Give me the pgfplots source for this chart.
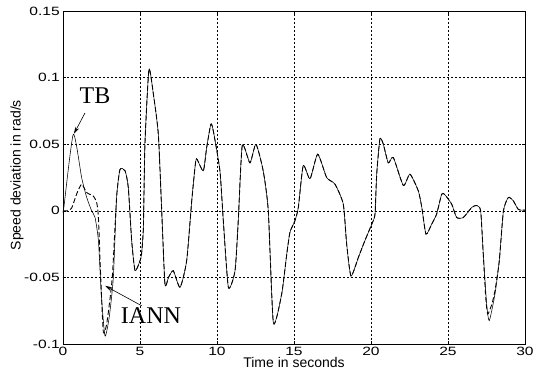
\documentclass[border=0pt]{standalone}
\usepackage{fontspec}
\setmainfont{Liberation Sans}
\newfontfamily\tickfont{Liberation Sans}[FakeStretch=1.3]
\newfontfamily\annfont{Liberation Serif}
\usepackage{pgfplots}
\pgfplotsset{compat=1.18}
\usetikzlibrary{arrows.meta}
\begin{document}
\begin{tikzpicture}
\useasboundingbox (-63pt,-37pt) rectangle (470pt,344pt);
\begin{axis}[
  at={(0pt,0pt)}, anchor=south west,
  scale only axis, width=462pt, height=333pt,
  xmin=0, xmax=30, ymin=-0.1, ymax=0.15,
  xtick={0,5,10,15,20,25,30},
  xticklabels={0,5,10,15,20,25,30},
  ytick={-0.1,-0.05,0,0.05,0.1,0.15},
  yticklabels={-0.1,-0.05,0,0.05,0.1,0.15},
  tick align=inside,
  major tick length=3pt,
  tick style={black, line width=0.5pt},
  xticklabel style={font=\tickfont\fontsize{12}{13}\selectfont, inner sep=0pt, anchor=north, yshift=-3pt},
  yticklabel style={font=\tickfont\fontsize{12}{13}\selectfont, inner sep=0pt, anchor=east, xshift=-3pt},
  grid=major,
  major grid style={black, line width=0.5pt, dash pattern=on 2pt off 2pt},
  axis line style={black, line width=0.7pt},
  xlabel={Time in seconds},
  ylabel={Speed deviation in rad/s},
  xlabel style={font=\fontsize{14}{15}\selectfont, at={(axis description cs:0.5,-0.057)}, anchor=center},
  ylabel style={font=\fontsize{14}{15}\selectfont, at={(axis description cs:-0.0996,0.507)}, anchor=center, rotate=0},
  clip=true,
]
% IANN (dashed)
\addplot[black, line width=0.9pt, dash pattern=on 5pt off 2.5pt, smooth, tension=0.35] coordinates {
(0,0) (0.3,0) (0.56,0.002) (0.9,0.013) (1.21,0.02) (1.54,0.0137) (1.97,0.011) (2.19,0.006) (2.3,-0.005) (2.45,-0.05) (2.62,-0.091) (2.85,-0.084) (3.2,-0.05)
(3.48,0.01) (3.7,0.031) (4.03,0.03) (4.24,0.0175) (4.46,-0.0225) (4.68,-0.045) (5.0,-0.0375) (5.1,-0.0325) (5.22,-0.0125) (5.32,0.05) (5.58,0.106) (5.87,0.0875) (6.19,0.0575) (6.41,0) (6.62,-0.055) (6.85,-0.05) (7.16,-0.045) (7.6,-0.0575) (8.03,-0.0375) (8.36,0.0075) (8.57,0.0325) (8.68,0.039) (9.11,0.03) (9.33,0.0475) (9.6,0.065) (9.76,0.06) (10.19,0.03) (10.41,-0.0075) (10.74,-0.0575) (11.17,-0.045) (11.38,-0.0075) (11.64,0.049) (12.14,0.036) (12.53,0.05) (13.0,0.03) (13.33,0) (13.66,-0.084) (14.2,-0.0625) (14.53,-0.0325) (14.74,-0.016) (15.06,-0.0075) (15.28,0.0025) (15.6,0.034) (16.04,0.024) (16.54,0.0425) (17.12,0.025) (17.66,0.02) (18.2,0.005) (18.42,-0.025) (18.7,-0.049) (19.18,-0.035) (19.6,-0.0225) (20.05,-0.01) (20.26,-0.0025) (20.37,0.0275) (20.58,0.054) (20.8,0.05) (21.12,0.036) (21.45,0.04) (22.1,0.019) (22.53,0.0275) (23.07,0.015) (23.3,0.0025) (23.57,-0.0175) (23.94,-0.01) (24.26,-0.0025) (24.59,0.0125) (24.8,0.012) (25.24,0.005) (25.56,-0.005) (26.0,-0.005) (26.54,0.0025) (26.86,0.004) (27.12,0) (27.29,-0.0325) (27.45,-0.065) (27.58,-0.0775) (27.85,-0.07) (28.05,-0.06) (28.33,-0.0375) (28.6,0) (28.92,0.01) (29.24,0.0075) (29.57,0.001) (30,0.0005)
};
% TB (solid)
\addplot[black, line width=0.55pt, smooth, tension=0.35] coordinates {
(0,0) (0.05,0.002) (0.67,0.0575) (1.21,0.025) (1.54,0.01) (1.86,0) (2.08,-0.005) (2.3,-0.0225) (2.5,-0.065) (2.73,-0.094) (3.0,-0.08) (3.27,-0.05)
(3.48,0.01) (3.7,0.031) (4.03,0.03) (4.24,0.0175) (4.46,-0.0225) (4.68,-0.045) (5.0,-0.0375) (5.1,-0.0325) (5.22,-0.0125) (5.32,0.05) (5.58,0.106) (5.87,0.0875) (6.19,0.0575) (6.41,0) (6.62,-0.055) (6.85,-0.05) (7.16,-0.045) (7.6,-0.0575) (8.03,-0.0375) (8.36,0.0075) (8.57,0.0325) (8.68,0.039) (9.11,0.03) (9.33,0.0475) (9.6,0.065) (9.76,0.06) (10.19,0.03) (10.41,-0.0075) (10.74,-0.0575) (11.17,-0.045) (11.38,-0.0075) (11.64,0.049) (12.14,0.036) (12.53,0.05) (13.0,0.03) (13.33,0) (13.66,-0.084) (14.2,-0.0625) (14.53,-0.0325) (14.74,-0.016) (15.06,-0.0075) (15.28,0.0025) (15.6,0.034) (16.04,0.024) (16.54,0.0425) (17.12,0.025) (17.66,0.02) (18.2,0.005) (18.42,-0.025) (18.7,-0.049) (19.18,-0.035) (19.6,-0.0225) (20.05,-0.01) (20.26,-0.0025) (20.37,0.0275) (20.58,0.054) (20.8,0.05) (21.12,0.036) (21.45,0.04) (22.1,0.019) (22.53,0.0275) (23.07,0.015) (23.3,0.0025) (23.57,-0.0175) (23.94,-0.01) (24.26,-0.0025) (24.59,0.0125) (24.8,0.012) (25.24,0.005) (25.56,-0.005) (26.0,-0.005) (26.54,0.0025) (26.86,0.004) (27.12,0) (27.29,-0.0325) (27.51,-0.07) (27.68,-0.0825) (28.05,-0.0625) (28.33,-0.0375) (28.6,0) (28.92,0.01) (29.24,0.0075) (29.57,0.001) (30,0.0005)
};
\node[font=\annfont\fontsize{24}{26}\selectfont, inner sep=0pt] at (axis cs:2.08,0.0863) {TB};
\draw[-{Stealth[length=7pt,width=4pt]}, line width=0.6pt] (axis cs:1.43,0.0735) -- (axis cs:0.71,0.0578);
\node[font=\annfont\fontsize{24}{26}\selectfont, inner sep=0pt] at (axis cs:5.71,-0.0788) {IANN};
\draw[-{Stealth[length=7pt,width=4pt]}, line width=0.6pt] (axis cs:5.11,-0.0713) -- (axis cs:2.73,-0.0563);
\end{axis}
\end{tikzpicture}
\end{document}
